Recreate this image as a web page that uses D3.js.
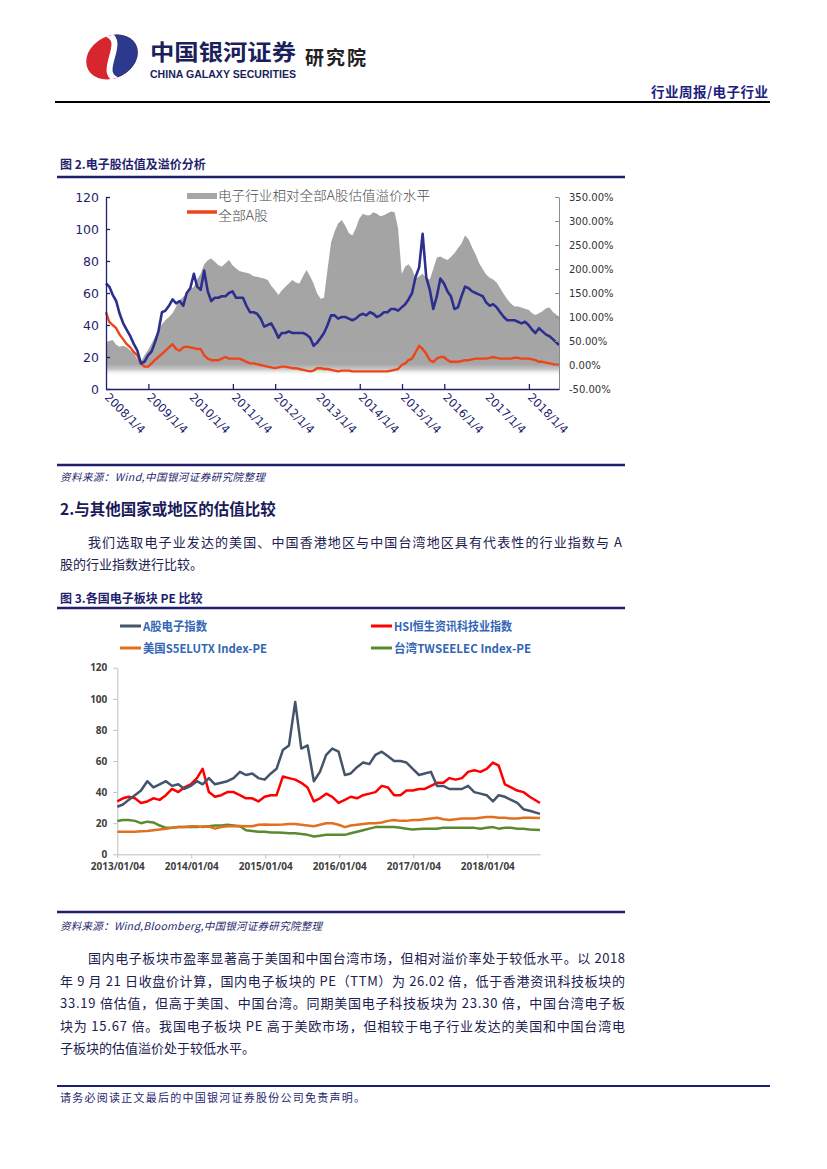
<!DOCTYPE html>
<html><head><meta charset="utf-8">
<script src="https://cdn.jsdelivr.net/npm/d3@7"></script>
<style>
html,body{margin:0;padding:0;background:#fff;}
svg{display:block;}
</style></head><body>
<svg id="page" width="827" height="1169"></svg>
<script>
// ---------------- Chart 1 data (monthly, 2008-01 .. 2018-09) ----------------
const dates1 = [
"2008-01-04","2008-02","2008-03","2008-04","2008-05","2008-06","2008-07","2008-08","2008-09","2008-10","2008-11","2008-12",
"2009-01","2009-02","2009-03","2009-04","2009-05","2009-06","2009-07","2009-08","2009-09","2009-10","2009-11","2009-12",
"2010-01","2010-02","2010-03","2010-04","2010-05","2010-06","2010-07","2010-08","2010-09","2010-10","2010-11","2010-12",
"2011-01","2011-02","2011-03","2011-04","2011-05","2011-06","2011-07","2011-08","2011-09","2011-10","2011-11","2011-12",
"2012-01","2012-02","2012-03","2012-04","2012-05","2012-06","2012-07","2012-08","2012-09","2012-10","2012-11","2012-12",
"2013-01","2013-02","2013-03","2013-04","2013-05","2013-06","2013-07","2013-08","2013-09","2013-10","2013-11","2013-12",
"2014-01","2014-02","2014-03","2014-04","2014-05","2014-06","2014-07","2014-08","2014-09","2014-10","2014-11","2014-12",
"2015-01","2015-02","2015-03","2015-04","2015-05","2015-06","2015-07","2015-08","2015-09","2015-10","2015-11","2015-12",
"2016-01","2016-02","2016-03","2016-04","2016-05","2016-06","2016-07","2016-08","2016-09","2016-10","2016-11","2016-12",
"2017-01","2017-02","2017-03","2017-04","2017-05","2017-06","2017-07","2017-08","2017-09","2017-10","2017-11","2017-12",
"2018-01","2018-02","2018-03","2018-04","2018-05","2018-06","2018-07","2018-08","2018-09-21"];
// electronics PE (left axis)
const elecPE1 = [66,64,59,55,47,41,37,33,28,24,16,17,
 21,23.5,29,36,48,49,52,56,53.5,55,52,60,
 63,72,64,62,74,61,55,57,57,58,58,60,
 61,57,57,57,52,48,48,47,44,39,40,41,
 37,32,35,35,36,35,35,35,35,34,32,27,
 29,32,35,40,46,46,44,45,45,44,43,44,
 46,47,46,48,47,45,46,48,48,50,50,49,
 51,53,56,60,70,76,97,70,62,50,58,69,
 66,61,58,50,51,58,64,63,61,60,59,58,
 54,52,53,51,48,45,43,43,43,42,41,42,
 40,37,35,38,36,34,33,31,27.5];
// all A-share PE (left axis)
const allAPE1 = [48,42,40,38,34,31,28,26,23,21,16,14,
 14,16,18,20,22,24,26,28,25,24,26,26.5,
 26,25.5,25,25,21,19,18,18,18,19,20,19,
 19,19,19,18,17,16,16,15.5,15,14.5,14,13.5,
 13,13.5,14,14,13.5,13,13,12.5,12,11.5,11,11.5,
 13,13,12.5,12.5,12,11.5,11,11.5,11.5,11.5,11,11,
 11,11,11,11,11,11,11,11,11,11.5,12,12.5,
 15,16,18,19,23,27,25,22,18,17,19,20,
 20,18,17,17,17,17.5,18,18,18.5,19,19,19,
 19,19.5,20,19.5,19,19,19,19,19.5,19.5,19,19,
 19,18.5,18,17,17,16.5,16,15.5,15];
// premium % (right axis)
const premium1 = [48,50,52,42,38,40,37,30,24,12,7,20,
 31,45,58,72,85,94,100,108,122,135,142,149,
 158,163,178,190,210,218,222,215,208,205,212,219,
 208,201,196,194,192,190,185,184,182,180,177,165,
 156,146,155,163,170,177,172,170,185,198,185,170,
 149,138,140,200,255,278,295,302,290,275,270,285,
 305,315,312,312,318,315,310,312,316,320,318,285,
 190,205,210,200,180,185,190,180,178,200,224,226,
 222,219,225,233,243,253,270,262,245,230,212,200,
 188,182,178,172,160,148,137,128,122,122,120,117,
 115,108,104,108,112,118,120,110,101];
const leftTicks1 = [0,20,40,60,80,100,120];
const rightTicks1 = [-50,0,50,100,150,200,250,300,350];
const xLabels1 = ["2008/1/4","2009/1/4","2010/1/4","2011/1/4","2012/1/4","2013/1/4","2014/1/4","2015/1/4","2016/1/4","2017/1/4","2018/1/4"];
const xTickMarks1 = ["2009/1/4","2011/1/4","2012/1/4","2014/1/4","2015/1/4","2016/1/4","2018/1/4"];
const legend1 = ["电子行业相对全部A股估值溢价水平","全部A股"];

// ---------------- Chart 2 data (monthly, 2013-01 .. 2018-09) ----------------
const dates2 = [
"2013-01-04","2013-02","2013-03","2013-04","2013-05","2013-06","2013-07","2013-08","2013-09","2013-10","2013-11","2013-12",
"2014-01","2014-02","2014-03","2014-04","2014-05","2014-06","2014-07","2014-08","2014-09","2014-10","2014-11","2014-12",
"2015-01","2015-02","2015-03","2015-04","2015-05","2015-06","2015-07","2015-08","2015-09","2015-10","2015-11","2015-12",
"2016-01","2016-02","2016-03","2016-04","2016-05","2016-06","2016-07","2016-08","2016-09","2016-10","2016-11","2016-12",
"2017-01","2017-02","2017-03","2017-04","2017-05","2017-06","2017-07","2017-08","2017-09","2017-10","2017-11","2017-12",
"2018-01","2018-02","2018-03","2018-04","2018-05","2018-06","2018-07","2018-08","2018-09-21"];
const aShareElec = [30.6,32,35,38,41,47,43,45,47,44,45,42,
 44,47,45,49,45,46,47,49,53,51,52,49,
 48,52,55,67,70,98,68,70,47,53,64,68,
 66,51,52,56,59,58,64,66,63,60,60,59,
 55,51,52,53,44,44,42,42,42,44,40,39,
 38,34,38,37,35,33,29,28,26];
const hsiTech = [34,36,37,36,33,34,36,35,38,42,40,43,
 45,49,55,40,37,38,40,40,38,36,36,34,
 37,38,38,50,49,48,46,43,34,36,39,37,
 33,35,37,36,38,39,40,44,43,38,38,41,
 41,42,42,44,46,46,49,48,49,53,54,53,
 55,59,57,45,43,41,40,37,33];
const usS5elutx = [14.5,14.5,14.5,14.5,14.8,15,15.5,16,16.5,17,17.5,17.5,
 18,18,17.5,17.8,16.5,17.5,18,18,18.2,18,18,19,
 19.2,19,19,19.2,19.5,19.5,19,18.5,18,19,20,20,
 19,17.5,18.5,19,19.5,20,20,20.5,21.5,22,21.5,21.5,
 22,22,22.5,23,23.5,22.5,22,22.5,23,23,23,23.5,
 24,24,23.5,23.5,23,23,23.5,23.5,23.3];
const twElec = [21.4,22,22,21.5,20,21,20.5,18.5,17,17,17.5,17.5,
 17.5,17.5,17.8,18,18.5,18.5,19,18.5,18,15.5,15,14.5,
 14.5,14,14,13.8,13.5,13.5,13,12.5,11.5,12,12.5,12.5,
 12.5,12.5,13.5,14.5,15.5,16.5,17.5,17.5,17.5,17.5,17,16.5,
 16,16.3,16.5,16.5,16.5,17,17,17,17,17,17,16.5,
 17,17.5,16.5,17,17,16.5,16.5,16,15.7];
const yTicks2 = [0,20,40,60,80,100,120];
const xTicks2 = ["2013/01/04","2014/01/04","2015/01/04","2016/01/04","2017/01/04","2018/01/04"];
const legend2 = ["A股电子指数","HSI恒生资讯科技业指数","美国S5ELUTX Index-PE","台湾TWSEELEC Index-PE"];

// ---------------- drawing ----------------
const NAVY = "#1F1F6E", TEXT = "#20204F";
const CJK = "'Noto Sans CJK SC','Noto Sans',sans-serif";
const svg = d3.select("#page");
const defs = svg.append("defs");
const parseM = d3.timeParse("%Y-%m"), parseD = d3.timeParse("%Y-%m-%d"), parseS = d3.timeParse("%Y/%m/%d");
const pd = s => s.length === 7 ? parseM(s) : parseD(s);

function addText(x, y, s, o = {}) {
  const t = svg.append("text").attr("x", x).attr("y", y).text(s)
    .attr("font-family", o.family || CJK)
    .attr("font-size", o.size || 13)
    .attr("font-weight", o.weight || "normal")
    .attr("fill", o.fill || TEXT);
  if (o.anchor) t.attr("text-anchor", o.anchor);
  if (o.italic) t.attr("font-style", "italic");
  if (o.len) t.attr("textLength", o.len).attr("lengthAdjust", o.adjust || "spacing");
  return t;
}
function hline(x1, x2, y, color, w) {
  svg.append("line").attr("x1", x1).attr("x2", x2).attr("y1", y).attr("y2", y)
    .attr("stroke", color).attr("stroke-width", w);
}

// ---- header / logo ----
defs.append("clipPath").attr("id", "logoClip").append("ellipse").attr("rx", 27).attr("ry", 21);
const logo = svg.append("g").attr("transform", "translate(112,57) rotate(-28)");
const lg = logo.append("g").attr("clip-path", "url(#logoClip)");
lg.append("rect").attr("x", -30).attr("y", -25).attr("width", 60).attr("height", 50).attr("fill", "#D8262F");
lg.append("path").attr("d", "M4,-25 C26,-6 -26,6 -4,25 L30,25 L30,-25 Z").attr("fill", "#2C3A8E");
lg.append("path").attr("d", "M4,-25 C26,-6 -26,6 -4,25").attr("fill", "none").attr("stroke", "#fff").attr("stroke-width", 6);
addText(150, 60, "中国银河证券", {size: 22, weight: "bold", fill: "#1B1F5C", len: 146, adjust: "spacingAndGlyphs"});
addText(150, 78, "CHINA GALAXY SECURITIES", {family: "'Liberation Sans',Arial,sans-serif", size: 10.5, weight: "bold", fill: "#1B1F5C", len: 146, adjust: "spacingAndGlyphs"});
addText(305, 65, "研究院", {size: 19, weight: "bold", fill: "#222", len: 61});
hline(55, 770, 102, "#000", 2);
addText(768, 97, "行业周报/电子行业", {size: 13.5, weight: "bold", fill: "#1E1E80", anchor: "end", len: 117});

// ---- chart 1 ----
addText(60, 169, "图 2.电子股估值及溢价分析", {size: 12, weight: "bold", fill: NAVY});
hline(57, 625, 177, NAVY, 2.5);

const d1 = dates1.map(pd);
const x1 = d3.scaleTime().domain([parseD("2008-01-04"), parseD("2018-09-21")]).range([106, 559]);
const y1L = d3.scaleLinear().domain([0, 120]).range([389, 197]);
const y1R = d3.scaleLinear().domain([-50, 350]).range([389, 197]);

const grad = defs.append("linearGradient").attr("id", "grayFade")
  .attr("gradientUnits", "userSpaceOnUse").attr("x1", 0).attr("x2", 0).attr("y1", 197).attr("y2", 389);
[[197, "#A3A3A3", 1], [364, "#A6A6A6", 1], [369, "#C4C4C4", 1], [376, "#FFFFFF", 0]].forEach(([yy, c, o]) =>
  grad.append("stop").attr("offset", (yy - 197) / 192).attr("stop-color", c).attr("stop-opacity", o));

const c1 = svg.append("g");
c1.append("path").datum(premium1.map((v, i) => [d1[i], v]))
  .attr("d", d3.area().x(d => x1(d[0])).y0(389).y1(d => y1R(d[1])))
  .attr("fill", "url(#grayFade)");
c1.append("path").datum(allAPE1.map((v, i) => [d1[i], v]))
  .attr("d", d3.line().x(d => x1(d[0])).y(d => y1L(d[1])))
  .attr("fill", "none").attr("stroke", "#EE4418").attr("stroke-width", 2.4).attr("stroke-linejoin", "round");
c1.append("path").datum(elecPE1.map((v, i) => [d1[i], v]))
  .attr("d", d3.line().x(d => x1(d[0])).y(d => y1L(d[1])))
  .attr("fill", "none").attr("stroke", "#2D2F8F").attr("stroke-width", 2.6).attr("stroke-linejoin", "round");

// axes chart 1
const axL = svg.append("g").attr("transform", "translate(106,0)")
  .call(d3.axisLeft(y1L).tickValues(leftTicks1).tickSizeInner(-4).tickSizeOuter(0).tickPadding(7));
axL.selectAll("path,line").attr("stroke", NAVY).attr("stroke-width", 1.3);
axL.selectAll("text").attr("font-family", "'DejaVu Sans',sans-serif").attr("font-size", 12.5).attr("fill", NAVY);

const axR = svg.append("g").attr("transform", "translate(559,0)")
  .call(d3.axisRight(y1R).tickValues(rightTicks1).tickSizeInner(-4).tickSizeOuter(0).tickPadding(10)
    .tickFormat(d => d.toFixed(2) + "%"));
axR.selectAll("path,line").attr("stroke", "#8A8A8A").attr("stroke-width", 1);
axR.selectAll("text").attr("font-family", "'DejaVu Sans',sans-serif").attr("font-size", 10).attr("fill", "#333");

const p1 = s => { const [y, m, d] = s.split("/").map(Number); return new Date(y, m - 1, d); };
const axB = svg.append("g").attr("transform", "translate(0,389)")
  .call(d3.axisBottom(x1).tickValues(xTickMarks1.map(p1)).tickSizeInner(-5).tickSizeOuter(0).tickFormat(""));
axB.selectAll("path,line").attr("stroke", NAVY).attr("stroke-width", 1.3);

svg.append("g").selectAll("text").data(xLabels1).join("text")
  .attr("transform", d => `translate(${x1(p1(d)) - 2},398) rotate(45)`)
  .attr("font-family", "'DejaVu Sans',sans-serif").attr("font-size", 11.5).attr("fill", NAVY)
  .text(d => d);

// legend chart 1
svg.append("rect").attr("x", 187).attr("y", 193).attr("width", 30).attr("height", 6).attr("fill", "#A6A6A6");
addText(218, 200, legend1[0], {size: 13, weight: 300, fill: "#4A4A4A", len: 212, adjust: "spacingAndGlyphs"});
svg.append("line").attr("x1", 187).attr("x2", 217).attr("y1", 212).attr("y2", 212).attr("stroke", "#EE4418").attr("stroke-width", 3.5);
addText(218, 219.5, legend1[1], {size: 13, weight: 300, fill: "#4A4A4A", len: 50, adjust: "spacingAndGlyphs"});

// source 1 and section text
hline(57, 625, 465, NAVY, 2.5);
addText(60, 481, "资料来源：Wind,中国银河证券研究院整理", {size: 10.5, italic: true, fill: NAVY, len: 205});
addText(60, 515, "2.与其他国家或地区的估值比较", {size: 15.5, weight: "bold", fill: "#1A1A5A"});
addText(88, 547, "我们选取电子业发达的美国、中国香港地区与中国台湾地区具有代表性的行业指数与  A", {size: 13, len: 534});
addText(60, 569, "股的行业指数进行比较。", {size: 13});
addText(60, 603, "图 3.各国电子板块 PE 比较", {size: 12, weight: "bold", fill: NAVY});
hline(57, 625, 608, NAVY, 2.5);

// ---- chart 2 ----
const d2 = dates2.map(pd);
const x2 = d3.scaleTime().domain([parseD("2013-01-04"), parseD("2018-09-21")]).range([117.3, 540]);
const y2 = d3.scaleLinear().domain([0, 120]).range([854.3, 667.7]);
const series2 = [
  {name: legend2[0], vals: aShareElec, color: "#44546A"},
  {name: legend2[1], vals: hsiTech, color: "#FF0000"},
  {name: legend2[2], vals: usS5elutx, color: "#E2701F"},
  {name: legend2[3], vals: twElec, color: "#5A8A30"}
];
const ax2L = svg.append("g").attr("transform", "translate(117.3,0)")
  .call(d3.axisLeft(y2).tickValues(yTicks2).tickSizeInner(4).tickSizeOuter(0).tickPadding(6));
ax2L.selectAll("path,line").attr("stroke", "#BFBFBF");
ax2L.selectAll("text").attr("font-family", "'Open Sans',sans-serif").attr("font-weight", "bold").attr("font-size", 10).attr("fill", "#404040");
const ax2B = svg.append("g").attr("transform", "translate(0,854.3)")
  .call(d3.axisBottom(x2).tickValues(xTicks2.map(s => parseS(s))).tickSizeInner(4).tickSizeOuter(0).tickPadding(5)
    .tickFormat(d3.timeFormat("%Y/%m/%d")));
ax2B.selectAll("path,line").attr("stroke", "#BFBFBF");
ax2B.selectAll("text").attr("font-family", "'Open Sans',sans-serif").attr("font-weight", "bold").attr("font-size", 10).attr("fill", "#404040");

const line2 = d3.line().x(d => x2(d[0])).y(d => y2(d[1]));
[series2[3], series2[2], series2[1], series2[0]].forEach(s => {
  svg.append("path").datum(s.vals.map((v, i) => [d2[i], v])).attr("d", line2)
    .attr("fill", "none").attr("stroke", s.color).attr("stroke-width", 2.5).attr("stroke-linejoin", "round");
});

// legend chart 2
const legPos = [[120, 626], [371, 626], [120, 648], [371, 648]];
const legLen = [64, 118, 124, 137];
series2.forEach((s, i) => {
  const [lx, ly] = legPos[i];
  svg.append("line").attr("x1", lx).attr("x2", lx + 21).attr("y1", ly).attr("y2", ly).attr("stroke", s.color).attr("stroke-width", 3);
  addText(lx + 23, ly + 4.5, s.name, {size: 12, weight: "bold", fill: "#3366B5", len: legLen[i], adjust: "spacingAndGlyphs"});
});

// source 2 and paragraph
hline(57, 625, 912, NAVY, 2.5);
addText(60, 930, "资料来源：Wind,Bloomberg,中国银河证券研究院整理", {size: 10.5, italic: true, fill: NAVY, len: 262});
const para2 = [
  [88, "国内电子板块市盈率显著高于美国和中国台湾市场，但相对溢价率处于较低水平。以 2018", 537],
  [60, "年 9 月 21 日收盘价计算，国内电子板块的 PE（TTM）为 26.02 倍，低于香港资讯科技板块的", 565],
  [60, "33.19 倍估值，但高于美国、中国台湾。同期美国电子科技板块为 23.30 倍，中国台湾电子板", 565],
  [60, "块为 15.67 倍。我国电子板块 PE 高于美欧市场，但相较于电子行业发达的美国和中国台湾电", 565],
  [60, "子板块的估值溢价处于较低水平。", 0]
];
para2.forEach(([x, s, len], i) => addText(x, 963 + i * 22.5, s, len ? {size: 13, len} : {size: 13}));

// footer
hline(57, 770, 1086, NAVY, 2);
addText(60, 1102, "请务必阅读正文最后的中国银河证券股份公司免责声明。", {size: 11, fill: NAVY, len: 305});
</script></body></html>
